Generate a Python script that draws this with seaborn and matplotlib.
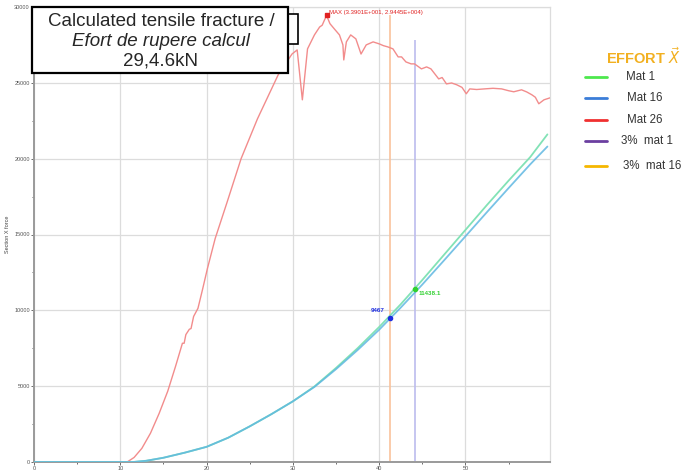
import matplotlib
matplotlib.use("Agg")
import matplotlib.pyplot as plt
import seaborn as sns
from matplotlib.patches import Rectangle
from matplotlib.lines import Line2D
from matplotlib.ticker import MultipleLocator

# Courbes effort / déplacement Mat 1 et Mat 16
x_mat = [0, 10, 11.5, 13, 15, 17.5, 20, 22.5, 25, 27.5, 30, 32.5, 35,
         37.5, 40, 42.5, 45, 47.5, 50, 52.5, 55, 57.5, 59.5]
force_mat1 = [0, 0, 0, 80, 280, 620, 1000, 1600, 2350, 3150, 4000, 4980, 6200,
              7500, 8900, 10400, 12000, 13650, 15300, 16950, 18550, 20100, 21600]
force_mat16 = [0, 0, 0, 80, 280, 620, 1000, 1600, 2350, 3150, 4000, 4950, 6120,
               7380, 8720, 10180, 11700, 13280, 14880, 16480, 18060, 19620, 20800]

# Courbe Mat 26 (rupture)
x_mat26 = [0, 10.8, 11.6, 12.5, 13.5, 14.5, 15.5, 16.4, 17.2, 17.4, 17.6, 18.0,
           18.2, 18.5, 19.0, 19.5, 20.1, 21.0, 22.4, 24.0, 25.9, 28.3, 29.9,
           30.5, 31.1, 31.7, 32.5, 33.1, 33.4, 33.9, 34.3, 34.8, 35.4, 35.8,
           35.9, 36.2, 36.7, 37.3, 37.9, 38.5, 39.3, 40.0, 40.5, 41.0, 41.6,
           42.2, 42.6, 43.1, 43.7, 44.1, 44.9, 45.5, 46.0, 46.9, 47.3, 47.8,
           48.4, 49.0, 49.6, 50.1, 50.5, 51.3, 52.2, 53.2, 54.2, 55.0, 55.6,
           56.5, 57.1, 57.7, 58.1, 58.5, 59.1, 59.8]
force_mat26 = [0, 0, 300, 900, 1900, 3200, 4670, 6300, 7830, 7830, 8400, 8750,
               8800, 9600, 10130, 11300, 12760, 14740, 17170, 20000, 22630,
               25530, 26900, 27170, 23880, 27240, 28160, 28680, 28800, 29445,
               28900, 28560, 28160, 27500, 26510, 27700, 28160, 27900, 26900,
               27500, 27700, 27570, 27450, 27370, 27240, 26710, 26710, 26380,
               26250, 26250, 25920, 26050, 25920, 25260, 25350, 24930, 24990,
               24870, 24700, 24280, 24600, 24560, 24600, 24640, 24600, 24480,
               24410, 24540, 24400, 24210, 24050, 23620, 23880, 24010]

# Points à 3 %
x_3pct_mat16, f_3pct_mat16 = 41.3, 9467
x_3pct_mat1, f_3pct_mat1 = 44.1, 11438.1
x_max, f_max = 33.901, 29445

legend_labels = ["Mat 1", "Mat 16", "Mat 26", "3%  mat 1", "3%  mat 16"]
legend_colors = ["#4de84d", "#3b7dd8", "#f03030", "#6b3fa0", "#f5b700"]

sns.set_style("white")
plt.rcParams['font.family'] = ['Liberation Sans', 'DejaVu Sans']

W, H = 683, 470
fig = plt.figure(figsize=(W / 100, H / 100), dpi=100)
ax = fig.add_axes([34 / W, 8 / H, (550 - 34) / W, (462 - 7) / H])

# Traits verticaux 3 %
ax.vlines(x_3pct_mat16, 0, 29500, color="#f9c29c", lw=1.2, zorder=2)
ax.vlines(x_3pct_mat1, 0, 27800, color="#bcbcee", lw=1.2, zorder=2)

sns.lineplot(x=x_mat26, y=force_mat26, ax=ax, color="#f28c8c", lw=1.0,
             estimator=None, zorder=3)
sns.lineplot(x=x_mat, y=force_mat1, ax=ax, color="#82e2b6", lw=1.3,
             estimator=None, zorder=3)
sns.lineplot(x=x_mat, y=force_mat16, ax=ax, color="#60b8e2", lw=1.3,
             alpha=0.85, estimator=None, zorder=4)

# Marqueurs
ax.plot(x_3pct_mat16, f_3pct_mat16, "o", ms=3, color="#1f2fe0", zorder=5)
ax.annotate(f"{f_3pct_mat16}", (x_3pct_mat16, f_3pct_mat16), xytext=(-4, 4),
            textcoords="offset points", ha="right", va="bottom",
            fontsize=4.5, color="#2030e0", fontweight="bold")
ax.plot(x_3pct_mat1, f_3pct_mat1, "o", ms=3, color="#30d030", zorder=5)
ax.annotate(f"{f_3pct_mat1}", (x_3pct_mat1, f_3pct_mat1), xytext=(3, -2),
            textcoords="offset points", ha="left", va="top",
            fontsize=4.5, color="#30d030", fontweight="bold")
ax.plot(x_max, f_max, "s", ms=2.5, color="#e02020", zorder=5)
ax.annotate("MAX (3.3901E+001, 2.9445E+004)", (x_max, f_max), xytext=(2, 0.5),
            textcoords="offset points", ha="left", va="bottom",
            fontsize=4.3, color="#e02020")

ax.set_xlim(0, 59.8)
ax.set_ylim(0, 30000)
ax.set_xticks(range(0, 60, 10))
ax.set_yticks(range(0, 30001, 5000))
ax.xaxis.set_minor_locator(MultipleLocator(5))
ax.yaxis.set_minor_locator(MultipleLocator(2500))
ax.grid(True, which="major", color="#dcdcdc", lw=0.9)
ax.tick_params(which="both", labelsize=4, colors="#555555", length=2, width=0.6,
               pad=1, bottom=True, left=True)
ax.tick_params(which="minor", length=1.5)
ax.set_xlabel("")
ax.set_ylabel("Section X force", fontsize=4, color="#444444", labelpad=3)
for side in ["left", "bottom"]:
    ax.spines[side].set_color("#9a9a9a")
    ax.spines[side].set_linewidth(1.4)
for side in ["top", "right"]:
    ax.spines[side].set_color("#dcdcdc")
    ax.spines[side].set_linewidth(0.9)

# Encadré de texte
fig.add_artist(Rectangle((240 / W, 1 - 44 / H), 58 / W, 30 / H,
                         transform=fig.transFigure, facecolor="white",
                         edgecolor="black", lw=1.2, zorder=10))
fig.add_artist(Rectangle((32 / W, 1 - 73 / H), 256 / W, 66 / H,
                         transform=fig.transFigure, facecolor="white",
                         edgecolor="black", lw=1.6, zorder=11))
cx = 161 / W
fig.text(cx, 1 - 21 / H, "Calculated tensile fracture /", ha="center",
         va="center", fontsize=13.5, zorder=12)
fig.text(cx, 1 - 41 / H, "Efort de rupere calcul", ha="center", va="center",
         fontsize=13.5, style="italic", zorder=12)
fig.text(cx, 1 - 61 / H, "29,4.6kN", ha="center", va="center",
         fontsize=13.5, zorder=12)

# Légende
fig.text(643 / W, 1 - 57 / H, r"EFFORT $\vec{X}$", ha="center", va="center",
         fontsize=10.5, fontweight="bold", color="#f2b020")
rows_y = [77, 98, 120, 141, 166]
text_x = [626, 627, 627, 621, 623]
for lab, col, yy, tx in zip(legend_labels, legend_colors, rows_y, text_x):
    fig.add_artist(Line2D([585 / W, 607 / W], [1 - yy / H, 1 - yy / H],
                          transform=fig.transFigure, color=col, lw=2))
    fig.text(tx / W, 1 - yy / H, lab, ha="left", va="center", fontsize=8.3,
             color="#333333")

fig.savefig("out.png", dpi=100)
